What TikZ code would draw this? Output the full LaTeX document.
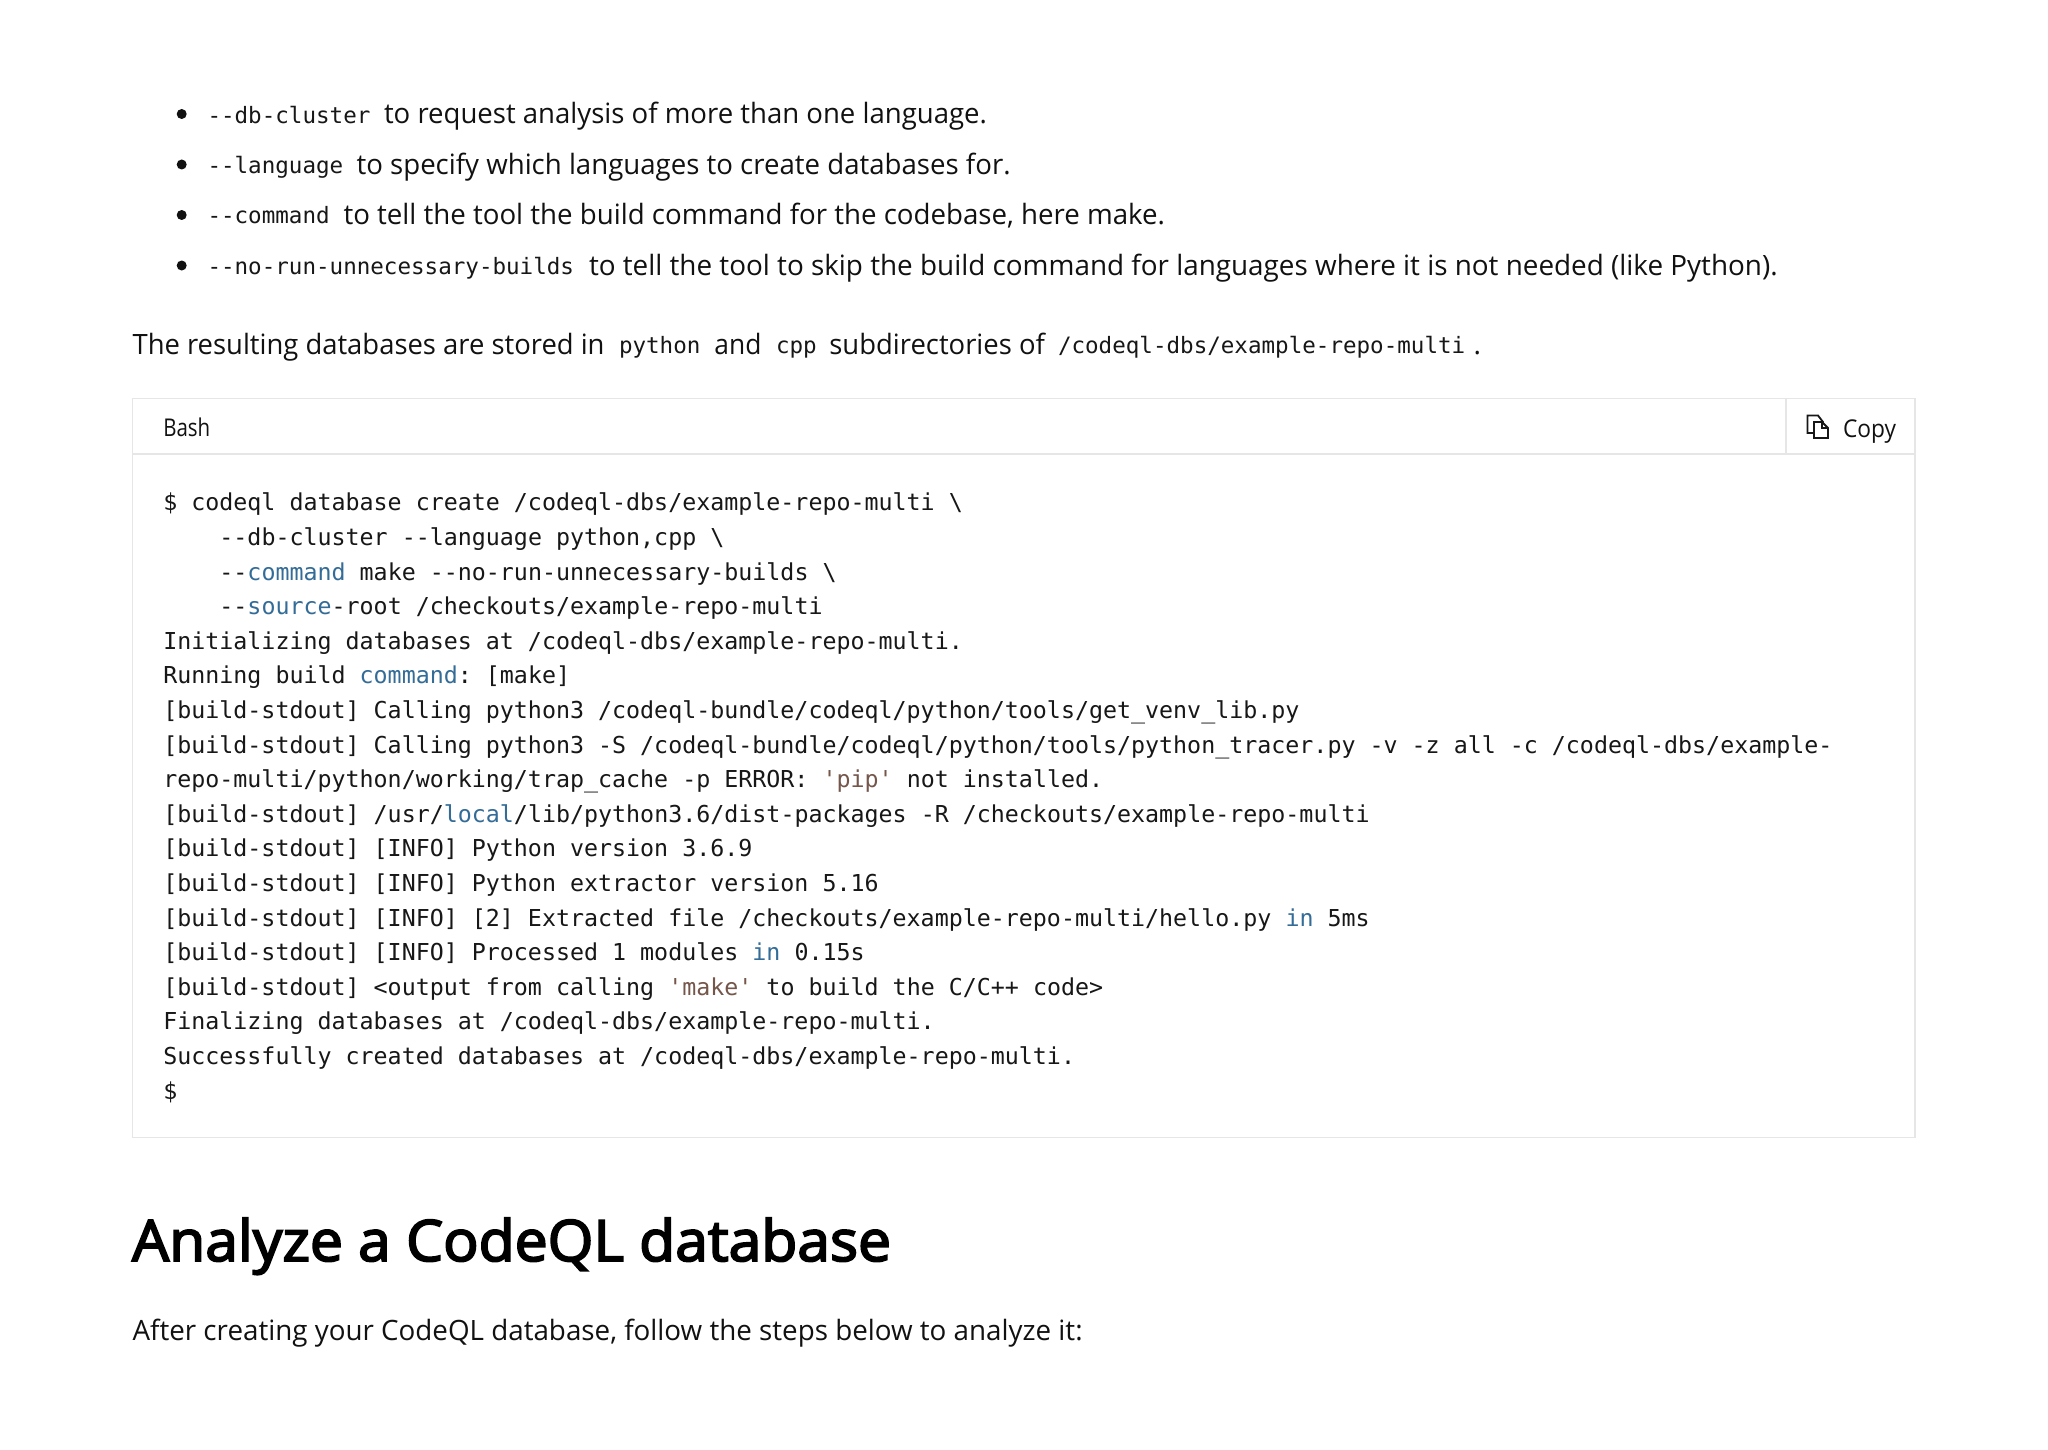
\documentclass[tikz,border=0pt]{standalone}
\usepackage{fontspec}
\setmainfont{Open Sans}
\newfontfamily\codefont{DejaVu Sans Mono}[Ligatures=ResetAll]
\newfontfamily\headfont{Open Sans}[FakeBold=3.2]
\definecolor{ink}{HTML}{111111}
\definecolor{codeink}{HTML}{171717}
\definecolor{edge}{HTML}{E6E6E6}
\definecolor{kw}{HTML}{346C98}
\definecolor{strg}{HTML}{75564A}
\newsavebox{\fitbox}
\newcommand{\fitw}[2]{\sbox{\fitbox}{#2}\pgfmathsetmacro{\fitr}{#1/\wd\fitbox}\scalebox{\fitr}[1]{\usebox{\fitbox}}}
\newcommand{\kwd}[1]{\textcolor{kw}{#1}}
\newcommand{\str}[1]{\textcolor{strg}{#1}}
\tikzset{
  txt/.style={anchor=base west,inner sep=0pt,outer sep=0pt,text=ink,font=\fontsize{28}{32}\selectfont},
  uitxt/.style={txt,font=\fontsize{24.5}{28}\selectfont},
  inl/.style={anchor=base west,inner sep=0pt,outer sep=0pt,text=codeink,font=\codefont\frenchspacing\fontsize{22.55}{26}\selectfont},
  codeln/.style={anchor=base west,inner sep=0pt,outer sep=0pt,text=codeink,font=\codefont\frenchspacing\fontsize{23.3}{28}\selectfont},
  head/.style={anchor=base west,inner sep=0pt,outer sep=0pt,text=black,font=\headfont\fontsize{57}{62}\selectfont},
  blt/.style={circle,fill=ink,draw=none,minimum size=10pt,inner sep=0pt},
  frame/.style={draw=edge,line width=1.6pt},
  iconln/.style={draw=codeink,line width=1.8pt,line join=miter,fill=white}
}
\newcommand{\cl}[4]{\node[codeln] (#1) at ({163.3+14.03*#3},{510.8+34.6*#2}) {#4};}
\begin{document}
\begin{tikzpicture}[x=1pt,y=-1pt]
\useasboundingbox[fill=white] (0,0) rectangle (2048,1450);
% bullets
\node[blt] (b1) at (181.7,114) {};
\node[blt] (b2) at (181.7,164.5) {};
\node[blt] (b3) at (181.7,215) {};
\node[blt] (b4) at (181.7,265.5) {};
\node[inl] (c1) at (207.5,123.4) {--db-cluster};
\node[txt] (t1) at (384,124) {\fitw{603}{to request analysis of more than one language.}};
\node[inl] (c2) at (207.5,173.6) {--language};
\node[txt] (t2) at (356.6,174.2) {\fitw{654}{to specify which languages to create databases for.}};
\node[inl] (c3) at (207.5,223.9) {--command};
\node[txt] (t3) at (343.5,224.5) {\fitw{821.5}{to tell the tool the build command for the codebase, here make.}};
\node[inl] (c4) at (207.5,274.4) {--no-run-unnecessary-builds};
\node[txt] (t4) at (589,275) {\fitw{1188.6}{to tell the tool to skip the build command for languages where it is not needed (like Python).}};
% paragraph
\node[txt] (p1) at (132.6,354.3) {\fitw{472}{The resulting databases are stored in}};
\node[inl] (p2) at (619,353.7) {python};
\node[txt] (p3) at (714.4,354.3) {\fitw{47}{and}};
\node[inl] (p4) at (776,353.7) {cpp};
\node[txt] (p5) at (829.4,354.3) {\fitw{215.5}{subdirectories of}};
\node[inl] (p6) at (1058,353.7) {/codeql-dbs/example-repo-multi};
\node[txt] (p7) at (1473.5,354.3) {.};
% code frame
\path[frame] (132.6,398.5) rectangle (1915,1137.5);
\coordinate (hl) at (132.6,454);
\coordinate (hr) at (1915,454);
\coordinate (st) at (1786,398.5);
\coordinate (sb) at (1786,454);
\draw[frame] (hl) -- (hr);
\draw[frame] (st) -- (sb);
\node[uitxt] (bash) at (163.3,436) {\fitw{47}{Bash}};
\node[uitxt] (copy) at (1843,437) {\fitw{53}{Copy}};
% copy icon
\path[iconln] (1807.5,415.5) -- (1818,415.5) -- (1823,422) -- (1823,433) -- (1807.5,433) -- cycle;
\path[iconln] (1814,422) -- (1822,422) -- (1828,428) -- (1828,438) -- (1814,438) -- cycle;
\draw[draw=codeink,line width=1.6pt] (1822,422) -- (1822,428) -- (1828,428);
% code
\cl{l0}{0}{0}{\$ codeql database create /codeql-dbs/example-repo-multi \textbackslash}
\cl{l1}{1}{4}{--db-cluster --language python,cpp \textbackslash}
\cl{l2}{2}{4}{--\kwd{command} make --no-run-unnecessary-builds \textbackslash}
\cl{l3}{3}{4}{--\kwd{source}-root /checkouts/example-repo-multi}
\cl{l4}{4}{0}{Initializing databases at /codeql-dbs/example-repo-multi.}
\cl{l5}{5}{0}{Running build \kwd{command}: [make]}
\cl{l6}{6}{0}{[build-stdout] Calling python3 /codeql-bundle/codeql/python/tools/get\_venv\_lib.py}
\cl{l7}{7}{0}{[build-stdout] Calling python3 -S /codeql-bundle/codeql/python/tools/python\_tracer.py -v -z all -c /codeql-dbs/example-}
\cl{l8}{8}{0}{repo-multi/python/working/trap\_cache -p ERROR: \str{'pip'} not installed.}
\cl{l9}{9}{0}{[build-stdout] /usr/\kwd{local}/lib/python3.6/dist-packages -R /checkouts/example-repo-multi}
\cl{l10}{10}{0}{[build-stdout] [INFO] Python version 3.6.9}
\cl{l11}{11}{0}{[build-stdout] [INFO] Python extractor version 5.16}
\cl{l12}{12}{0}{[build-stdout] [INFO] [2] Extracted file /checkouts/example-repo-multi/hello.py \kwd{in} 5ms}
\cl{l13}{13}{0}{[build-stdout] [INFO] Processed 1 modules \kwd{in} 0.15s}
\cl{l14}{14}{0}{[build-stdout] <output from calling \str{'make'} to build the C/C++ code>}
\cl{l15}{15}{0}{Finalizing databases at /codeql-dbs/example-repo-multi.}
\cl{l16}{16}{0}{Successfully created databases at /codeql-dbs/example-repo-multi.}
\cl{l17}{17}{0}{\$}
% heading
\node[head] (h1) at (132,1261) {\fitw{759}{Analyze a CodeQL database}};
\node[txt] (p8) at (132.6,1340.4) {\fitw{950}{After creating your CodeQL database, follow the steps below to analyze it:}};
\end{tikzpicture}
\end{document}
